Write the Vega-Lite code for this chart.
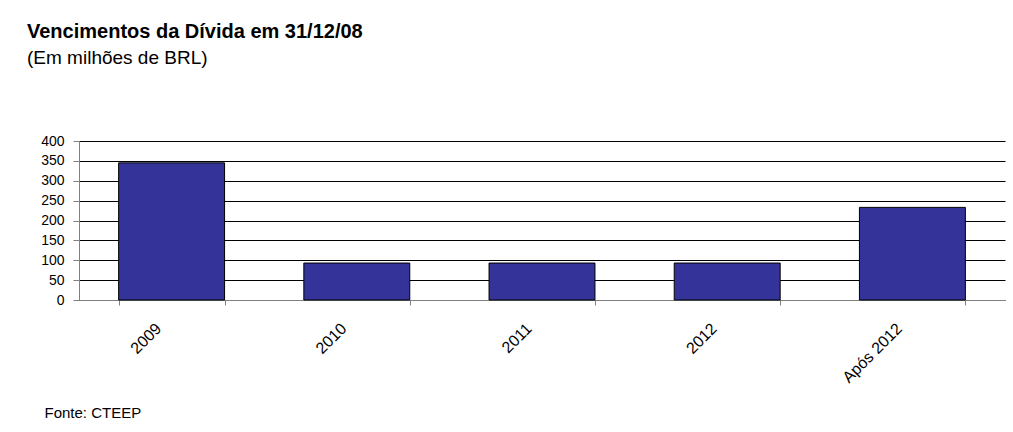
{
  "$schema": "https://vega.github.io/schema/vega-lite/v6.json",
  "autosize": {"type": "none"},
  "width": 926,
  "height": 159,
  "padding": {"left": 79, "top": 141, "right": 8, "bottom": 132},
  "background": "white",
  "title": {
    "text": "Vencimentos da Dívida em 31/12/08",
    "subtitle": "(Em milhões de BRL)",
    "anchor": "start",
    "frame": "group",
    "dx": -52,
    "offset": 66,
    "font": "Liberation Sans",
    "fontSize": 20,
    "fontWeight": "bold",
    "color": "black",
    "subtitleFont": "Liberation Sans",
    "subtitleFontSize": 19,
    "subtitleColor": "black",
    "subtitlePadding": 7
  },
  "config": {
    "view": {"stroke": null},
    "font": "Liberation Sans"
  },
  "data": {
    "values": [
      {"periodo": "2009", "valor": 345},
      {"periodo": "2010", "valor": 93},
      {"periodo": "2011", "valor": 93},
      {"periodo": "2012", "valor": 93},
      {"periodo": "Após 2012", "valor": 233}
    ]
  },
  "mark": {"type": "bar", "color": "#333399", "stroke": "black", "strokeWidth": 1},
  "encoding": {
    "x": {
      "field": "periodo",
      "type": "nominal",
      "sort": null,
      "scale": {"paddingInner": 0.428, "paddingOuter": 0.214},
      "axis": {
        "tickBand": "extent",
        "labelAngle": -45,
        "labelAlign": "right",
        "labelBaseline": "top",
        "labelFontSize": 16,
        "labelColor": "black",
        "labelPadding": 15,
        "labelOffset": -19,
        "tickSize": 5,
        "tickColor": "#808080",
        "domainColor": "#808080",
        "grid": false,
        "title": "Fonte: CTEEP",
        "titleX": -35,
        "titleY": 117,
        "titleAlign": "left",
        "titleBaseline": "alphabetic",
        "titleFontSize": 15,
        "titleFontWeight": "normal",
        "titleColor": "black"
      }
    },
    "y": {
      "field": "valor",
      "type": "quantitative",
      "scale": {"domain": [0, 400], "nice": false},
      "axis": {
        "values": [0, 50, 100, 150, 200, 250, 300, 350, 400],
        "grid": true,
        "gridColor": "black",
        "gridOpacity": 1,
        "gridWidth": 1,
        "domainColor": "#808080",
        "tickColor": "#808080",
        "tickSize": 6,
        "labelPadding": 9,
        "labelFontSize": 14,
        "labelColor": "black",
        "title": null
      }
    }
  }
}
